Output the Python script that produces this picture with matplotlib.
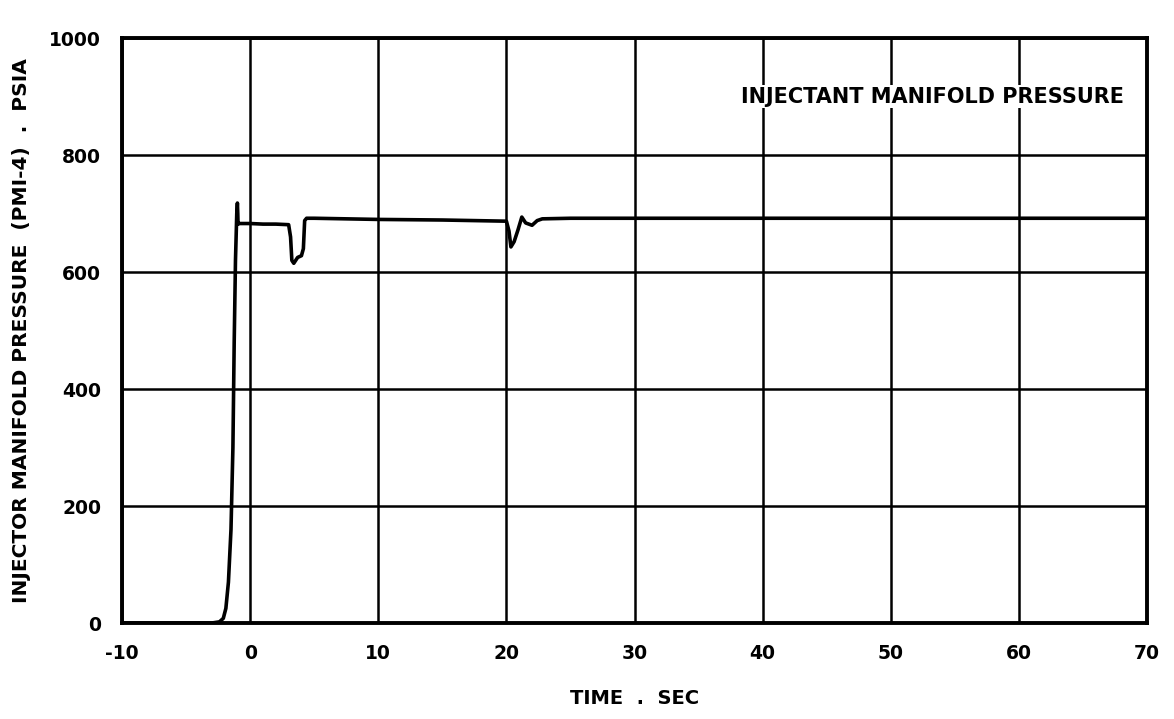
import matplotlib
matplotlib.use("Agg")
import matplotlib.pyplot as plt

time_s = [-10, -3.0, -2.4, -2.1, -1.9, -1.7, -1.5, -1.35, -1.25, -1.15, -1.05,
          -1.0, -0.97, -0.95, -0.9, 0.0, 1.0, 2.0, 3.0, 3.15, 3.25, 3.4,
          3.7, 4.0, 4.15, 4.25, 4.4, 5.0, 10.0, 15.0, 20.0, 20.2, 20.35,
          20.6, 20.9, 21.2, 21.5, 22.0, 22.4, 22.8, 25.0, 40.0, 55.0, 70.0]
pressure_psia = [0, 0, 2, 8, 25, 70, 160, 300, 480, 620, 700,
                 718, 700, 682, 683, 683, 682, 682, 681, 660, 620, 615,
                 625, 628, 640, 688, 692, 692, 690, 689, 687, 670, 643,
                 652, 672, 694, 684, 680, 688, 691, 692, 692, 692, 692]

x_ticks = [-10, 0, 10, 20, 30, 40, 50, 60, 70]
y_ticks = [0, 200, 400, 600, 800, 1000]

FONT = "DejaVu Sans"

fig = plt.figure(figsize=(11.74, 7.19), dpi=100)
ax = fig.add_axes([0.104, 0.1335, 0.873, 0.8135])

ax.plot(time_s, pressure_psia, color="black", lw=2.6, zorder=3,
        solid_joinstyle="round")

ax.set_xlim(-10, 70)
ax.set_ylim(0, 1000)
ax.set_xticks(x_ticks)
ax.set_yticks(y_ticks)
ax.set_xticklabels([str(t) for t in x_ticks], fontsize=13.5,
                   fontweight="bold", family=FONT)
ax.set_yticklabels([str(t) for t in y_ticks], fontsize=13.5,
                   fontweight="bold", family=FONT)
ax.tick_params(axis="x", length=0, pad=15)
ax.tick_params(axis="y", length=0, pad=15)
ax.grid(True, color="black", lw=1.8)
for sp in ax.spines.values():
    sp.set_linewidth(2.8)

ax.set_xlabel("TIME  .  SEC", fontsize=14, fontweight="bold", family=FONT,
              labelpad=19)
ax.set_ylabel("INJECTOR MANIFOLD PRESSURE  (PMI-4)  .  PSIA", fontsize=14.5,
              fontweight="bold", family=FONT, labelpad=13)

ax.text(68.2, 900, "INJECTANT MANIFOLD PRESSURE", fontsize=15,
        fontweight="bold", family=FONT, ha="right", va="center",
        bbox=dict(facecolor="white", edgecolor="none", pad=1))

fig.savefig("out.png", dpi=100)
